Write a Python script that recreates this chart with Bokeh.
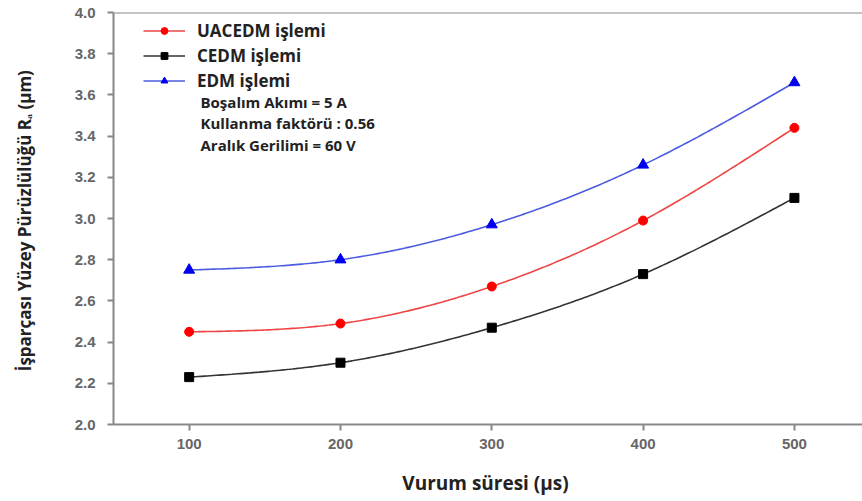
import numpy as np
from bokeh.plotting import figure
from bokeh.models import Range1d, Legend, LegendItem, Label, Span, FixedTicker, NumeralTickFormatter
from bokeh.embed import file_html
from bokeh.resources import INLINE

x_vals = [100, 200, 300, 400, 500]
uacedm = [2.45, 2.49, 2.67, 2.99, 3.44]
cedm = [2.23, 2.30, 2.47, 2.73, 3.10]
edm = [2.75, 2.80, 2.97, 3.26, 3.66]
series_names = ["UACEDM işlemi", "CEDM işlemi", "EDM işlemi"]
notes = ["Boşalım Akımı = 5 A", "Kullanma faktörü : 0.56", "Aralık Gerilimi = 60 V"]
x_ticks = [100, 200, 300, 400, 500]
y_ticks = [2.0, 2.2, 2.4, 2.6, 2.8, 3.0, 3.2, 3.4, 3.6, 3.8, 4.0]


def natural_spline(xs, ys, n=200):
    xs = np.asarray(xs, float)
    ys = np.asarray(ys, float)
    k = len(xs)
    h = np.diff(xs)
    A = np.zeros((k, k))
    b = np.zeros(k)
    A[0, 0] = A[-1, -1] = 1
    for i in range(1, k - 1):
        A[i, i - 1] = h[i - 1]
        A[i, i] = 2 * (h[i - 1] + h[i])
        A[i, i + 1] = h[i]
        b[i] = 3 * ((ys[i + 1] - ys[i]) / h[i] - (ys[i] - ys[i - 1]) / h[i - 1])
    c = np.linalg.solve(A, b)
    xx = np.linspace(xs[0], xs[-1], n)
    yy = np.empty_like(xx)
    for j, xv in enumerate(xx):
        i = min(np.searchsorted(xs, xv, side="right") - 1, k - 2)
        dx = xv - xs[i]
        bi = (ys[i + 1] - ys[i]) / h[i] - h[i] * (2 * c[i] + c[i + 1]) / 3
        di = (c[i + 1] - c[i]) / (3 * h[i])
        yy[j] = ys[i] + bi * dx + c[i] * dx ** 2 + di * dx ** 3
    return xx, yy


p = figure(width=862, height=501, output_backend="svg", toolbar_location=None,
           x_range=Range1d(50, 545), y_range=Range1d(2.0, 4.0),
           min_border_left=113, min_border_right=0, min_border_top=12, min_border_bottom=0)
p.frame_width = 862 - 113
p.frame_height = 412
p.xgrid.visible = False
p.ygrid.visible = False
p.outline_line_color = None
p.background_fill_color = "white"
p.border_fill_color = "white"

p.add_layout(Span(location=4.0, dimension="width", line_color="#888888", line_width=2))

for ax in (p.xaxis[0], p.yaxis[0]):
    ax.axis_line_color = "#888888"
    ax.axis_line_width = 2
    ax.major_tick_line_color = "#888888"
    ax.major_tick_line_width = 2
    ax.major_tick_out = 6
    ax.major_tick_in = 0
    ax.minor_tick_line_color = None
    ax.major_label_text_color = "#666666"
    ax.major_label_text_font = "Liberation Sans"
    ax.major_label_text_font_style = "bold"
    ax.major_label_text_font_size = "15px"
    ax.axis_label_text_font = "Open Sans"
    ax.axis_label_text_font_style = "bold"
    ax.axis_label_text_font_size = "19px"
    ax.axis_label_text_color = "#222222"

p.xaxis.ticker = FixedTicker(ticks=x_ticks)
p.yaxis.ticker = FixedTicker(ticks=y_ticks)
p.yaxis.formatter = NumeralTickFormatter(format="0.0")
p.xaxis.major_label_standoff = 8
p.yaxis.major_label_standoff = 12
p.xaxis.axis_label = "Vurum süresi  (µs)"
p.xaxis.axis_label_standoff = 18
p.yaxis.axis_label = "İşparçası Yüzey Pürüzlülüğü Rₐ  (µm)"
p.yaxis.axis_label_standoff = 36
p.yaxis.axis_label_text_font_size = "17px"

styles = [
    (uacedm, "#ee4444", "#ff0000", "circle", 9),
    (cedm, "#333333", "#000000", "square", 9),
    (edm, "#4a5be0", "#0000ee", "triangle", 11),
]
items = []
for (ys, lc, mc, mk, sz), name in zip(styles, series_names):
    xx, yy = natural_spline(x_vals, ys)
    r1 = p.line(xx, yy, line_color=lc, line_width=1.6)
    r2 = p.scatter(x_vals, ys, marker=mk, size=sz, fill_color=mc, line_color=mc)
    items.append(LegendItem(label=name, renderers=[r1, r2]))

legend = Legend(items=items, location=(30, 332), border_line_color=None,
                background_fill_alpha=0, label_text_font="Open Sans",
                label_text_font_style="bold", label_text_font_size="17px",
                label_text_color="#222222", glyph_width=42, glyph_height=17,
                label_height=17, spacing=2, padding=0, margin=0,
                label_standoff=12)
p.add_layout(legend)

for i, t in enumerate(notes):
    p.add_layout(Label(x=87, y=323 - i * 21.5, x_units="screen", y_units="screen",
                       text=t, text_font="Open Sans", text_font_style="bold",
                       text_font_size="15px", text_color="#222222",
                       text_baseline="middle"))

open("out.html", "w").write(file_html(p, INLINE))
